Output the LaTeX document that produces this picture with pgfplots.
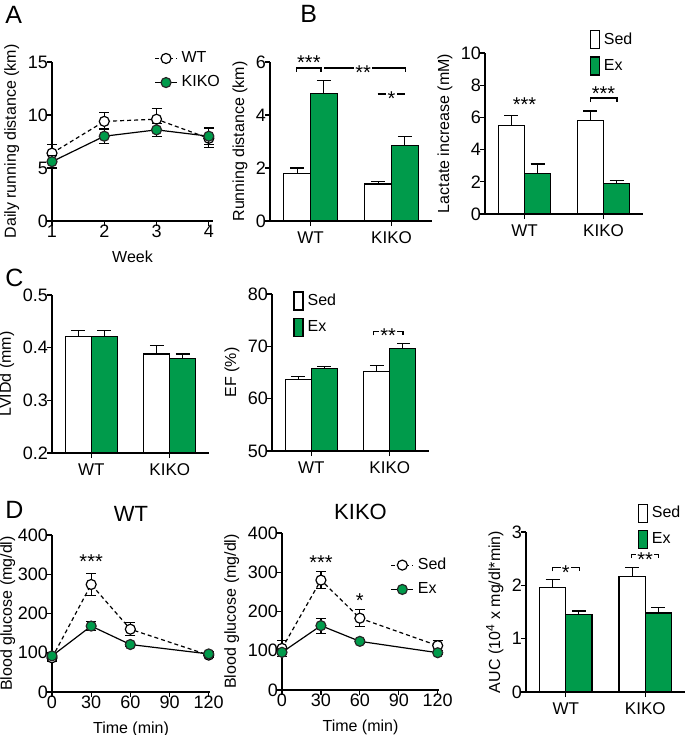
\documentclass[border=0pt]{standalone}
\usepackage{fontspec}
\setmainfont{Liberation Sans}
\usepackage{pgfplots}
\pgfplotsset{compat=1.18}
\definecolor{exgreen}{RGB}{0,155,75}
\newcommand{\tk}{\fontsize{9}{10}\selectfont}
\newcommand{\lb}{\fontsize{8}{9.5}\selectfont}
\newcommand{\st}{\fontsize{10}{11}\selectfont}
\pgfplotsset{
  prism/.style={
    scale only axis, anchor=south west,
    axis lines*=left,
    axis line style={-, line width=0.6pt},
    tick align=outside,
    major tick length=2.5pt,
    tick style={line width=0.6pt, black},
    tick label style={font=\tk, inner sep=0.8pt},
    xticklabel shift=-1.5pt, yticklabel shift=-1.5pt,
    label style={font=\lb},
    xlabel shift=2pt,
    /pgf/number format/assume math mode=true,
    clip mode=individual,
    legend style={draw=none, fill=none, font=\lb, inner sep=0pt, row sep=1pt},
    legend cell align=left,
  },
  barax/.style={prism, xmin=0.5, xmax=2.5, xtick={1,2}, xticklabels={WT,KIKO},
    xticklabel style={font=\fontsize{8.5}{10}\selectfont},
    xticklabel shift=2pt,
    legend image code/.code={\draw[##1, line width=0.6pt] (0pt,-4.5pt) rectangle (4.5pt,4.5pt);},
  },
  lineax/.style={prism, clip=false,
    legend image code/.code={\draw[##1, mark repeat=2, mark phase=2] plot coordinates {(0pt,0pt) (5.5pt,0pt) (11pt,0pt)};},
  },
  sedbar/.style={ybar, bar width=0.33, bar shift=0, fill=white, draw=black, line width=0.6pt,
    error bars/y dir=plus, error bars/y explicit,
    error bars/error bar style={line width=0.6pt, black},
    error bars/error mark options={rotate=90, black, line width=0.6pt, mark size=3.5pt}},
  exbar/.style={ybar, bar width=0.33, bar shift=0, fill=exgreen, draw=black, line width=0.6pt,
    error bars/y dir=plus, error bars/y explicit,
    error bars/error bar style={line width=0.6pt, black},
    error bars/error mark options={rotate=90, black, line width=0.6pt, mark size=3.5pt}},
  sedline/.style={black, line width=0.6pt, dash pattern=on 2pt off 1.5pt, mark=*, mark size=2.5pt,
    mark options={solid, fill=white, draw=black, line width=0.6pt},
    error bars/y dir=both, error bars/y explicit,
    error bars/error bar style={solid, line width=0.6pt, black},
    error bars/error mark options={rotate=90, solid, black, line width=0.6pt, mark size=2.5pt}},
  exline/.style={black, line width=0.6pt, solid, mark=*, mark size=2.5pt,
    mark options={solid, fill=exgreen, draw=black!85, line width=0.6pt},
    error bars/y dir=both, error bars/y explicit,
    error bars/error bar style={solid, line width=0.6pt, black},
    error bars/error mark options={rotate=90, solid, black, line width=0.6pt, mark size=2.5pt}},
}
\tikzset{starc/.style={font=\st, anchor=base, yshift=-5.8pt, inner sep=0.6pt},
  starw/.style={starc, fill=white},
  brk/.style={line width=0.6pt}}
\begin{document}
\begin{tikzpicture}
\useasboundingbox (0pt,0pt) rectangle (342.5pt,-367.5pt);
\node[anchor=base west, font=\fontsize{12.5}{14}\selectfont, inner sep=0pt] at (2.5pt,-11.5pt) {A};
\node[anchor=base west, font=\fontsize{12.5}{14}\selectfont, inner sep=0pt] at (150pt,-11pt) {B};
\node[anchor=base west, font=\fontsize{12.5}{14}\selectfont, inner sep=0pt] at (2.5pt,-143pt) {C};
\node[anchor=base west, font=\fontsize{12.5}{14}\selectfont, inner sep=0pt] at (2.5pt,-259pt) {D};

% ---------- A ----------
\begin{axis}[lineax, at={(26pt,-110.5pt)}, width=80.5pt, height=79.5pt,
  xmin=1, xmax=4.08, ymin=0, ymax=15, xtick={1,2,3,4}, ytick={0,5,10,15},
  xlabel={Week}, ylabel={Daily running distance (km)},
  legend style={at={(axis description cs:1.07,1.094)}, anchor=north east}]
\addplot[sedline] table[x=x, y=y, y error=e] {
x y e
1 6.4 0.8
2 9.4 0.8
3 9.6 1.0
4 7.8 0.9
};
\addlegendentry{WT}
\addplot[exline] table[x=x, y=y, y error=e] {
x y e
1 5.6 0.6
2 8.0 0.7
3 8.6 0.6
4 8.0 0.8
};
\addlegendentry{KIKO}
\end{axis}

% ---------- B running ----------
\begin{axis}[barax, at={(135pt,-110.5pt)}, width=81pt, height=79.5pt,
  ymin=0, ymax=6, ytick={0,2,4,6}, ylabel={Running distance (km)}]
\addplot[sedbar] table[x=x, y=y, y error=e] {
x y e
0.835 1.8 0.2
1.835 1.4 0.1
};
\addplot[exbar] table[x=x, y=y, y error=e] {
x y e
1.165 4.8 0.5
2.165 2.85 0.35
};
\draw[brk] (axis cs:0.83,5.64) |- (axis cs:1.13,5.77) -- (axis cs:1.13,5.64);
\node[starc] at (axis cs:0.98,6.17) {***};
\draw[brk] (axis cs:1.17,5.77) -- (axis cs:2.17,5.77) -- (axis cs:2.17,5.64);
\node[starw] at (axis cs:1.65,5.77) {**};
\draw[brk] (axis cs:1.83,4.79) -- (axis cs:2.17,4.79);
\node[starw] at (axis cs:2.0,4.79) {*};
\end{axis}

% ---------- B lactate ----------
\begin{axis}[barax, at={(242.5pt,-107pt)}, width=79pt, height=80.5pt,
  ymin=0, ymax=10, ytick={0,2,4,6,8,10}, ylabel={Lactate increase (mM)},
  legend style={at={(axis description cs:0.66,1.155)}, anchor=north west, row sep=2pt}]
\addplot[sedbar] table[x=x, y=y, y error=e] {
x y e
0.835 5.5 0.6
1.835 5.8 0.6
};
\addlegendentry{Sed}
\addplot[exbar] table[x=x, y=y, y error=e] {
x y e
1.165 2.5 0.6
2.165 1.9 0.2
};
\addlegendentry{Ex}
\draw[brk] (axis cs:0.84,7.08) -- (axis cs:1.16,7.08);
\node[starw] at (axis cs:1.0,7.08) {***};
\draw[brk] (axis cs:1.84,6.95) |- (axis cs:2.17,7.2) -- (axis cs:2.17,6.95);
\node[starc] at (axis cs:2.0,7.76) {***};
\end{axis}

% ---------- C LVIDd ----------
\begin{axis}[barax, at={(26pt,-226.5pt)}, width=78.5pt, height=79pt,
  ymin=0.2, ymax=0.5, ytick={0.2,0.3,0.4,0.5}, yticklabels={0.2,0.3,0.4,0.5},
  ylabel={LVIDd (mm)}]
\addplot[sedbar] table[x=x, y=y, y error=e] {
x y e
0.835 0.421 0.012
1.835 0.388 0.016
};
\addplot[exbar] table[x=x, y=y, y error=e] {
x y e
1.165 0.421 0.011
2.165 0.379 0.009
};
\end{axis}

% ---------- C EF ----------
\begin{axis}[barax, at={(136pt,-225.5pt)}, width=78.5pt, height=78.5pt,
  ymin=50, ymax=80, ytick={50,60,70,80}, ylabel={EF (\%)},
  legend style={at={(axis description cs:0.134,1.03)}, anchor=north west, row sep=2pt}]
\addplot[sedbar] table[x=x, y=y, y error=e] {
x y e
0.835 63.6 0.7
1.835 65.2 1.1
};
\addlegendentry{Sed}
\addplot[exbar] table[x=x, y=y, y error=e] {
x y e
1.165 65.7 0.5
2.165 69.6 0.9
};
\addlegendentry{Ex}
\draw[brk] (axis cs:1.79,72.1) |- (axis cs:2.17,72.9) -- (axis cs:2.17,72.1);
\node[starw] at (axis cs:1.98,72.9) {**};
\end{axis}

% ---------- D glucose WT ----------
\begin{axis}[lineax, at={(26pt,-346pt)}, width=79pt, height=78.5pt,
  xmin=0, xmax=121, ymin=0, ymax=400, xtick={0,30,60,90,120}, ytick={0,100,200,300,400},
  xlabel={Time (min)}, ylabel={Blood glucose (mg/dl)}, ylabel shift=-3pt,
  title={WT}, title style={font=\fontsize{11}{12}\selectfont, yshift=-3pt}]
\addplot[sedline] table[x=x, y=y, y error=e] {
x y e
0 87 8
30 274 28
60 160 17
120 94 7
};
\addplot[exline] table[x=x, y=y, y error=e] {
x y e
0 92 5
30 168 12
60 121 5
120 97 6
};
\node[starc] at (axis cs:30,345) {***};
\end{axis}

% ---------- D glucose KIKO ----------
\begin{axis}[lineax, at={(141pt,-345pt)}, width=78.5pt, height=78.5pt,
  xmin=0, xmax=121, ymin=0, ymax=400, xtick={0,30,60,90,120}, ytick={0,100,200,300,400},
  xlabel={Time (min)}, ylabel={Blood glucose (mg/dl)},
  title={KIKO}, title style={font=\fontsize{11}{12}\selectfont, yshift=-3pt},
  legend style={at={(axis description cs:0.69,0.87)}, anchor=north west}]
\addplot[sedline] table[x=x, y=y, y error=e] {
x y e
0 106 20
30 280 22
60 183 22
120 113 13
};
\addlegendentry{Sed}
\addplot[exline] table[x=x, y=y, y error=e] {
x y e
0 96 6
30 164 19
60 124 5
120 95 5
};
\addlegendentry{Ex}
\node[starc] at (axis cs:30,336) {***};
\node[starc] at (axis cs:60,240) {*};
\end{axis}

% ---------- D AUC ----------
\begin{axis}[barax, at={(263pt,-346pt)}, width=79.5pt, height=80pt,
  ymin=0, ymax=3, ytick={0,1,2,3}, ylabel={AUC (10\textsuperscript{4} x mg/dl*min)},
  legend style={at={(axis description cs:0.70,1.19)}, anchor=north west, row sep=2pt}]
\addplot[sedbar] table[x=x, y=y, y error=e] {
x y e
0.835 1.96 0.15
1.835 2.16 0.17
};
\addlegendentry{Sed}
\addplot[exbar] table[x=x, y=y, y error=e] {
x y e
1.165 1.46 0.06
2.165 1.48 0.10
};
\addlegendentry{Ex}
\draw[brk] (axis cs:0.83,2.26) |- (axis cs:1.17,2.33) -- (axis cs:1.17,2.26);
\node[starw] at (axis cs:1.0,2.33) {*};
\draw[brk] (axis cs:1.83,2.51) |- (axis cs:2.17,2.58) -- (axis cs:2.17,2.51);
\node[starw] at (axis cs:2.0,2.58) {**};
\end{axis}
\end{tikzpicture}
\end{document}
